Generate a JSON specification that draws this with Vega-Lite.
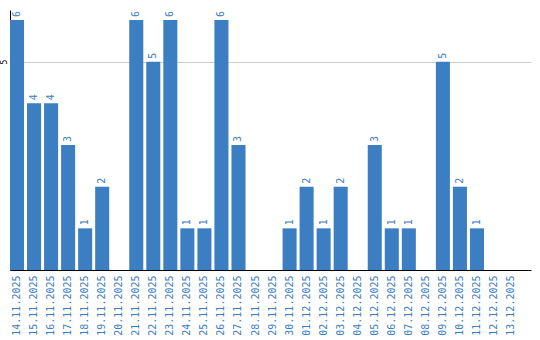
{
  "$schema": "https://vega.github.io/schema/vega-lite/v6.json",
  "autosize": "none",
  "width": 521,
  "height": 260,
  "padding": {"left": 10, "top": 10, "right": 9, "bottom": 70},
  "background": "white",
  "config": {"view": {"stroke": null}},
  "data": {"values": [
    {"date": "14.11.2025", "count": 6},
    {"date": "15.11.2025", "count": 4},
    {"date": "16.11.2025", "count": 4},
    {"date": "17.11.2025", "count": 3},
    {"date": "18.11.2025", "count": 1},
    {"date": "19.11.2025", "count": 2},
    {"date": "20.11.2025", "count": 0},
    {"date": "21.11.2025", "count": 6},
    {"date": "22.11.2025", "count": 5},
    {"date": "23.11.2025", "count": 6},
    {"date": "24.11.2025", "count": 1},
    {"date": "25.11.2025", "count": 1},
    {"date": "26.11.2025", "count": 6},
    {"date": "27.11.2025", "count": 3},
    {"date": "28.11.2025", "count": 0},
    {"date": "29.11.2025", "count": 0},
    {"date": "30.11.2025", "count": 1},
    {"date": "01.12.2025", "count": 2},
    {"date": "02.12.2025", "count": 1},
    {"date": "03.12.2025", "count": 2},
    {"date": "04.12.2025", "count": 0},
    {"date": "05.12.2025", "count": 3},
    {"date": "06.12.2025", "count": 1},
    {"date": "07.12.2025", "count": 1},
    {"date": "08.12.2025", "count": 0},
    {"date": "09.12.2025", "count": 5},
    {"date": "10.12.2025", "count": 2},
    {"date": "11.12.2025", "count": 1},
    {"date": "12.12.2025", "count": 0},
    {"date": "13.12.2025", "count": 0}
  ]},
  "encoding": {
    "x": {
      "field": "date", "type": "ordinal", "sort": null,
      "scale": {"paddingInner": 0.176, "paddingOuter": 0.38, "align": 0},
      "axis": {
        "title": null, "labelAngle": 270, "labelAlign": "right", "labelBaseline": "middle",
        "labelPadding": 5, "ticks": false, "labelFont": "DejaVu Sans Mono", "labelFontSize": 10,
        "labelColor": "#3a7dc2", "domainColor": "#000000", "domainWidth": 1, "grid": false
      }
    },
    "y": {
      "field": "count", "type": "quantitative",
      "scale": {"domain": [0, 6.24], "nice": false, "zero": true},
      "axis": {
        "title": null, "values": [5], "grid": true, "gridColor": "#cccccc", "ticks": false,
        "labelAngle": 270, "labelAlign": "center", "labelBaseline": "bottom", "labelPadding": 2,
        "labelFont": "DejaVu Sans Mono", "labelFontSize": 8, "labelColor": "#000000",
        "domainColor": "#000000", "domainWidth": 1
      }
    }
  },
  "layer": [
    {"mark": {"type": "bar", "color": "#3b7ec2"}},
    {"transform": [{"filter": "datum.count > 0"}],
     "mark": {"type": "text", "angle": 270, "align": "left", "baseline": "middle", "dx": 3,
              "font": "DejaVu Sans Mono", "fontSize": 10, "color": "#3a7dc2"},
     "encoding": {"text": {"field": "count", "type": "quantitative"}}}
  ]
}
